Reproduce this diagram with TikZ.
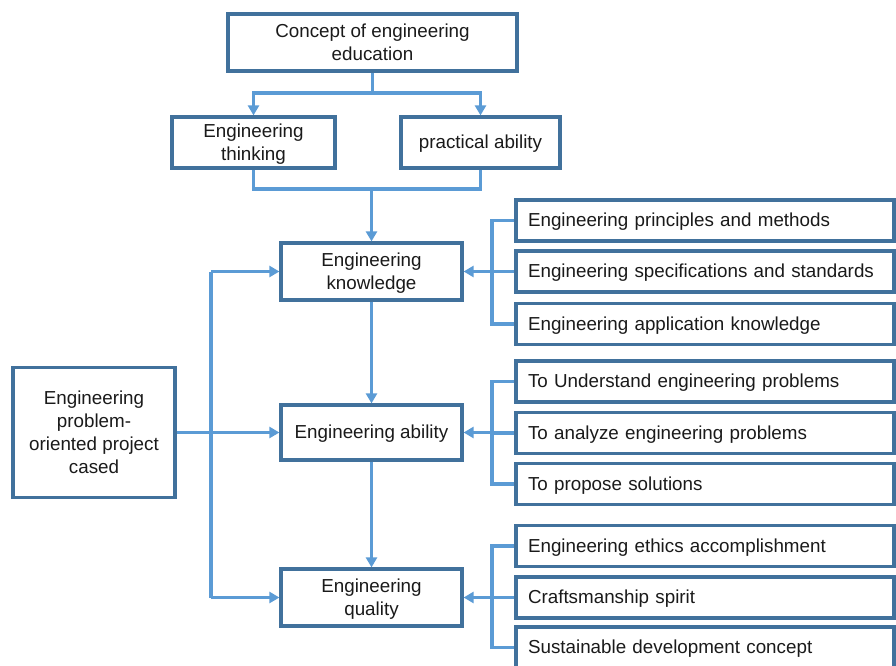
\documentclass[tikz,border=0pt]{standalone}
\usepackage{fontspec}
\setmainfont{Liberation Sans}
\usetikzlibrary{arrows.meta}
\definecolor{boxc}{HTML}{41719C}
\definecolor{linec}{HTML}{5B9BD5}
\definecolor{txt}{HTML}{1A1A1A}
\tikzset{
  x=1pt,y=-1pt,
  box/.style={draw=boxc,line width=3.2pt,fill=white,rectangle,inner sep=0pt,align=center,font=\fontsize{18.8}{23}\selectfont,text=txt,text depth=1pt},
  sub/.style={draw=boxc,line width=3.2pt,fill=white,rectangle,inner ysep=0pt,inner xsep=12pt,minimum height=41pt,text width=354pt,align=left,font=\fontsize{18.8}{23}\selectfont,text=txt,text depth=1pt},
  conn/.style={draw=linec,line width=3.3pt},
  arr/.style={conn,-{Triangle[width=11pt,length=10pt]}},
}
\begin{document}
\begin{tikzpicture}
\useasboundingbox (0,0) rectangle (896,665);
\clip (0,0) rectangle (896,665);
\node[box,minimum width=289pt,minimum height=57pt] (top) at (372.5,42.5) {Concept of engineering\\education};
\node[box,minimum width=163pt,minimum height=51pt] (think) at (253.5,142.5) {Engineering\\thinking};
\node[box,minimum width=159pt,minimum height=51pt] (prac) at (480.5,142.5) {practical ability};
\node[box,minimum width=181pt,minimum height=57pt] (know) at (371.5,271.5) {Engineering\\knowledge};
\node[box,minimum width=181pt,minimum height=55pt] (abil) at (371.5,432.5) {Engineering ability};
\node[box,minimum width=181pt,minimum height=57pt] (qual) at (371.5,597.5) {Engineering\\quality};
\node[box,minimum width=162pt,minimum height=130pt] (left) at (94,432.5) {Engineering\\problem-\\oriented project\\cased};
\node[sub] (k1) at (705,220.5) {Engineering principles and methods};
\node[sub] (k2) at (705,271.5) {Engineering specifications and standards};
\node[sub] (k3) at (705,324) {Engineering application knowledge};
\node[sub] (a1) at (705,381.5) {To Understand engineering problems};
\node[sub] (a2) at (705,433) {To analyze engineering problems};
\node[sub] (a3) at (705,484) {To propose solutions};
\node[sub] (q1) at (705,546) {Engineering ethics accomplishment};
\node[sub] (q2) at (705,597.5) {Craftsmanship spirit};
\node[sub] (q3) at (705,647.5) {Sustainable development concept};
\coordinate (j1) at (372.5,93);
\coordinate (j2) at (371.5,189);
\coordinate (lx) at (211,0);
\coordinate (bx) at (492,0);
% top tree
\draw[conn] (top.south) -- (j1);
\draw[arr] (j1) -| (think.north);
\draw[arr] (j1) -| (prac.north);
\draw[conn] (think.south) |- (j2) -| (prac.south);
\draw[arr] (j2) -- (know.north);
\draw[arr] (know.south) -- (abil.north);
\draw[arr] (abil.south) -- (qual.north);
% left
\draw[conn] (know.west -| lx) -- (qual.west -| lx);
\draw[arr] (know.west -| lx) -- (know.west);
\draw[arr] (qual.west -| lx) -- (qual.west);
\draw[arr] (left.east) -- (abil.west);
% right brackets
\foreach \p/\a/\b/\c in {know/k1/k2/k3,abil/a1/a2/a3,qual/q1/q2/q3}{
  \draw[conn] (\a.west) -- (\a.west -| bx) -- (\c.west -| bx) -- (\c.west);
  \draw[conn] (\b.west) -- (\b.west -| bx);
  \draw[arr] (\p.east -| bx) -- (\p.east);
}
\end{tikzpicture}
\end{document}
